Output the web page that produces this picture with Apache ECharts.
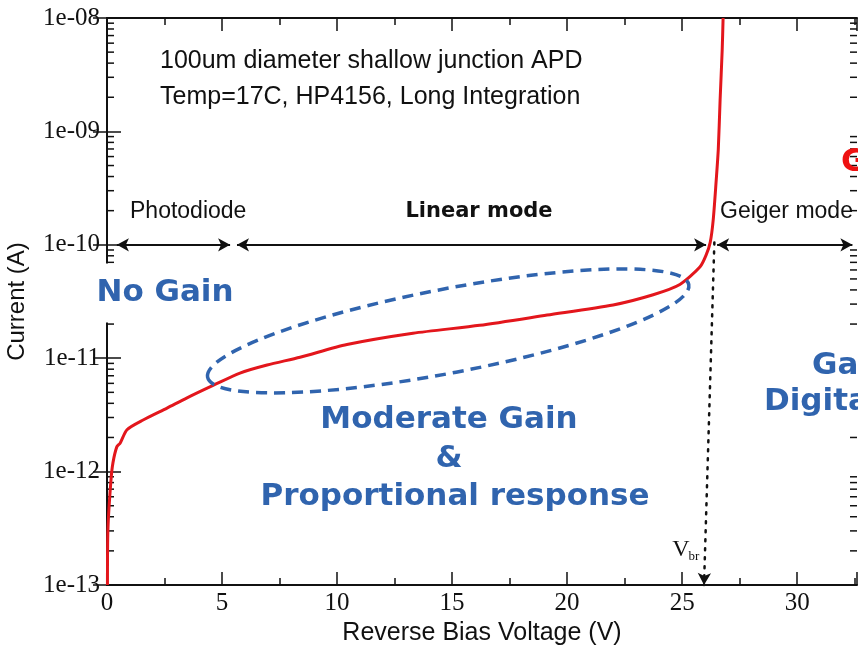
<!DOCTYPE html>
<html>
<head>
<meta charset="utf-8">
<script src="https://cdn.jsdelivr.net/npm/echarts@6/dist/echarts.min.js"></script>
<style>
  html, body { margin: 0; padding: 0; background: #fff; }
  #chart { width: 858px; height: 649px; }
</style>
</head>
<body>
<div id="chart"></div>
<script>
// APD I-V curve
const voltage = [0.02, 0.04, 0.17, 0.26, 0.43, 0.57, 0.87, 1.57, 2.61, 3.48, 4.61, 5.78, 6.96, 8.39,
  10.43, 13.3, 16.2, 19.13, 22.0, 23.74, 24.9, 25.78, 26.04, 26.22, 26.35, 26.48, 26.57, 26.65, 26.74, 26.78];
const current = [1.0e-13, 3.1e-13, 8.3e-13, 1.2e-12, 1.66e-12, 1.78e-12, 2.34e-12, 2.85e-12, 3.63e-12, 4.47e-12,
  5.75e-12, 7.4e-12, 8.7e-12, 1.02e-11, 1.32e-11, 1.66e-11, 1.95e-11, 2.4e-11, 2.95e-11, 3.63e-11,
  4.47e-11, 6.4e-11, 8.1e-11, 1.05e-10, 1.66e-10, 3.7e-10, 6.9e-10, 1.9e-9, 5.2e-9, 1.0e-8];

const xMin = 0, xMax = 32.6;
const yMin = 1e-13, yMax = 1e-8;
const decades = [-13, -12, -11, -10, -9];
const minorMult = [2, 3, 4, 5, 6, 7, 8, 9];

// region arrows at 1e-10 and the breakdown marker
const regionArrows = [[0.43, 5.35], [5.65, 26.04], [26.52, 32.4]];
const arrowLevel = 1e-10;
const vbrTop = [26.4, 1.05e-10], vbrBottom = [25.95, 1e-13];
const ellipseCenter = [14.83, 1.74e-11];

const blue = '#3064ae';
const red = '#e3161c';

const curveData = voltage.map((v, i) => [v, current[i]]);
const minorTicks = [];
decades.forEach(d => minorMult.forEach(m => minorTicks.push([xMin, m * Math.pow(10, d)])));

const chart = echarts.init(document.getElementById('chart'));

const markData = regionArrows.map(a => [
  { coord: [a[0], arrowLevel], symbol: 'arrow' },
  { coord: [a[1], arrowLevel], symbol: 'arrow' }
]);
markData.push([
  { coord: vbrTop, symbol: 'none', lineStyle: { type: [2, 7], width: 2.5, cap: 'round' } },
  { coord: vbrBottom, symbol: 'arrow' }
]);

const serif = 'Liberation Serif';
const sans = 'Liberation Sans';
const bold = 'DejaVu Sans';

function label(text, x, y, opts) {
  return {
    type: 'text', x: x, y: y, z: 50,
    style: Object.assign({ text: text, fill: '#111', font: '25px ' + sans, textAlign: 'left', textVerticalAlign: 'middle' }, opts || {})
  };
}
function blueText(text, x, y, align, extra) {
  return label(text, x, y, Object.assign({ fill: blue, font: 'bold 31px "' + bold + '"', textAlign: align || 'center' }, extra || {}));
}

const tickStyle = { color: '#111', width: 1.5 };

chart.setOption({
  animation: false,
  backgroundColor: '#fff',
  grid: { left: 107, right: 1, top: 18, bottom: 64, outerBoundsMode: 'none', containLabel: false },
  xAxis: [{
    type: 'value', min: xMin, max: xMax, interval: 5, position: 'bottom',
    name: 'Reverse Bias Voltage (V)', nameLocation: 'middle', nameGap: 35,
    nameTextStyle: { fontFamily: sans, fontSize: 25, color: '#111' },
    axisLine: { lineStyle: { color: '#111', width: 2 } },
    axisTick: { inside: true, length: 13, lineStyle: tickStyle },
    minorTick: { show: true, splitNumber: 2, length: 7, lineStyle: tickStyle },
    axisLabel: { fontFamily: serif, fontSize: 25, color: '#111', margin: 6, showMaxLabel: false },
    splitLine: { show: false }
  }, {
    type: 'value', min: xMin, max: xMax, interval: 5, position: 'top',
    axisLine: { lineStyle: { color: '#111', width: 2 } },
    axisTick: { inside: true, length: 13, lineStyle: tickStyle },
    minorTick: { show: true, splitNumber: 2, length: 7, lineStyle: tickStyle },
    axisLabel: { show: false },
    splitLine: { show: false }
  }],
  yAxis: [{
    type: 'log', logBase: 10, min: yMin, max: yMax, position: 'left',
    name: 'Current (A)', nameLocation: 'middle', nameGap: 78, nameRotate: 90,
    nameTextStyle: { fontFamily: sans, fontSize: 24, color: '#111' },
    axisLine: { show: true, lineStyle: { color: '#111', width: 2 } },
    axisTick: { inside: true, length: 14, lineStyle: tickStyle },
    axisLabel: {
      fontFamily: serif, fontSize: 25, color: '#111', margin: 7,
      formatter: v => {
        const e = Math.round(Math.log10(v));
        return '1e-' + String(-e).padStart(2, '0');
      }
    },
    splitLine: { show: false }
  }, {
    type: 'log', logBase: 10, min: yMin, max: yMax, position: 'right',
    axisLine: { show: true, lineStyle: { color: '#111', width: 2 } },
    axisTick: { inside: true, length: 14, lineStyle: tickStyle },
    axisLabel: { show: false },
    splitLine: { show: false }
  }],
  series: [{
    type: 'custom',
    name: 'minor ticks',
    coordinateSystem: 'cartesian2d',
    silent: true,
    clip: false,
    data: minorTicks,
    renderItem: (params, api) => {
      const l = api.coord([xMin, api.value(1)]);
      const r = api.coord([xMax, api.value(1)]);
      const st = { stroke: '#111', lineWidth: 1.5 };
      return {
        type: 'group', children: [
          { type: 'line', shape: { x1: l[0], y1: l[1], x2: l[0] + 7, y2: l[1] }, style: st },
          { type: 'line', shape: { x1: r[0], y1: r[1], x2: r[0] - 7, y2: r[1] }, style: st }
        ]
      };
    }
  }, {
    type: 'custom',
    name: 'gain region',
    coordinateSystem: 'cartesian2d',
    silent: true,
    z: 5,
    data: [ellipseCenter],
    renderItem: (params, api) => {
      const c = api.coord([api.value(0), api.value(1)]);
      return {
        type: 'ellipse', x: c[0], y: c[1], rotation: 0.19,
        shape: { cx: 0, cy: 0, rx: 245, ry: 42 },
        style: { fill: 'none', stroke: blue, lineWidth: 3.5, lineDash: [11, 7] }
      };
    }
  }, {
    type: 'line',
    name: 'I-V',
    data: curveData,
    smooth: 0.25,
    showSymbol: false,
    z: 4,
    lineStyle: { color: red, width: 3 },
    markLine: {
      silent: true,
      symbolSize: [10, 12],
      label: { show: false },
      lineStyle: { color: '#111', width: 2, type: 'solid' },
      data: markData
    }
  }],
  graphic: [
    label('100um diameter shallow junction APD', 160, 61),
    label('Temp=17C, HP4156, Long Integration', 160, 97),
    label('Photodiode', 130, 212, { font: '23px ' + sans }),
    label('Linear mode', 479, 212, { font: 'bold 21px "' + bold + '"', textAlign: 'center' }),
    label('Geiger mode', 720, 212, { font: '23px ' + sans }),
    label('V', 681, 550, { font: '24px ' + serif, textAlign: 'center' }),
    label('br', 694, 557, { font: '13px ' + serif, textAlign: 'center' }),
    blueText('No Gain', 163, 293, 'center', { backgroundColor: '#fff', padding: [14, 4, 14, 8] }),
    blueText('Moderate Gain', 449, 420),
    blueText('&', 449, 459),
    blueText('Proportional response', 455, 497),
    blueText('Gain', 808, 366, 'left', { backgroundColor: '#fff', padding: [4, 4, 4, 4] }),
    blueText('Digital', 760, 402, 'left', { backgroundColor: '#fff', padding: [2, 4, 2, 4] }),
    label('Geiger', 841, 163, { fill: '#ee1111', font: 'bold 32px "' + bold + '"' })
  ]
});
</script>
</body>
</html>
